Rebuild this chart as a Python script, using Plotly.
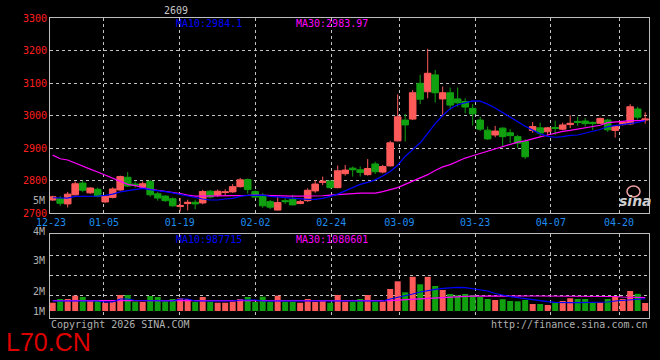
import plotly.graph_objects as go

# ---------------- data ----------------
dates = ["12-23", "12-24", "12-25", "12-26", "12-29", "12-30", "12-31",
         "01-05", "01-06", "01-07", "01-08", "01-09", "01-12", "01-13", "01-14", "01-15", "01-16",
         "01-19", "01-20", "01-21", "01-22", "01-23", "01-26", "01-27", "01-28", "01-29", "01-30",
         "02-02", "02-03", "02-04", "02-05", "02-06", "02-09", "02-10", "02-11", "02-12", "02-13",
         "02-24", "02-25", "02-26", "02-27",
         "03-02", "03-03", "03-04", "03-05", "03-06", "03-09", "03-10", "03-11", "03-12", "03-13",
         "03-16", "03-17", "03-18", "03-19", "03-20", "03-23", "03-24", "03-25", "03-26", "03-27",
         "03-30", "03-31", "04-01", "04-02", "04-03", "04-07", "04-08", "04-09", "04-10",
         "04-13", "04-14", "04-15", "04-16", "04-17", "04-20", "04-21", "04-22", "04-23", "04-24"]

opens = [2740, 2744, 2728, 2756, 2792, 2762, 2773, 2734, 2748, 2771,
         2810, 2789, 2780, 2797, 2759, 2752, 2744, 2720, 2729, 2733,
         2731, 2767, 2755, 2763, 2765, 2781, 2803, 2766, 2755, 2735,
         2709, 2738, 2742, 2729, 2738, 2768, 2794, 2798, 2778, 2821,
         2838, 2833, 2818, 2851, 2826, 2845, 2922, 2986, 2989, 3099,
         3073, 3125, 3051, 3070, 3051, 3043, 3022, 2986, 2955, 2940,
         2961, 2947, 2935, 2920, 2954, 2962, 2950, 2963, 2958, 2972,
         2982, 2983, 2979, 2976, 2986, 2954, 2972, 2974, 3020, 2986]
highs = [2753, 2752, 2765, 2797, 2800, 2779, 2778, 2755, 2779, 2815,
         2826, 2797, 2797, 2802, 2765, 2755, 2748, 2746, 2741, 2741,
         2771, 2771, 2772, 2773, 2789, 2808, 2806, 2770, 2761, 2740,
         2750, 2745, 2756, 2740, 2776, 2801, 2812, 2802, 2846, 2848,
         2843, 2843, 2866, 2858, 2848, 2922, 3065, 3005, 3078, 3125,
         3205, 3140, 3089, 3086, 3086, 3053, 3035, 2996, 2966, 2968,
         2964, 2958, 2940, 2927, 2980, 2978, 2965, 2984, 2978, 3001,
         2996, 2992, 2981, 2993, 2990, 2968, 2981, 3035, 3027, 3010]
lows = [2737, 2722, 2717, 2754, 2764, 2759, 2748, 2731, 2745, 2768,
        2780, 2778, 2775, 2750, 2738, 2734, 2720, 2704, 2708, 2712,
        2727, 2745, 2750, 2754, 2762, 2778, 2760, 2745, 2716, 2712,
        2708, 2728, 2724, 2727, 2734, 2762, 2786, 2775, 2776, 2815,
        2812, 2812, 2815, 2820, 2822, 2843, 2920, 2920, 2986, 3035,
        3053, 3040, 2997, 3017, 3027, 3007, 2969, 2952, 2925, 2933,
        2906, 2915, 2900, 2866, 2947, 2937, 2940, 2940, 2955, 2961,
        2968, 2966, 2955, 2974, 2950, 2932, 2969, 2971, 2988, 2975]
closes = [2750, 2730, 2758, 2790, 2770, 2777, 2751, 2752, 2774, 2812,
          2783, 2786, 2790, 2756, 2746, 2738, 2722, 2723, 2733, 2728,
          2766, 2749, 2767, 2765, 2781, 2802, 2772, 2749, 2722, 2718,
          2732, 2735, 2725, 2735, 2770, 2789, 2798, 2778, 2830, 2832,
          2833, 2825, 2837, 2827, 2843, 2916, 2996, 2971, 3070, 3050,
          3130, 3070, 3070, 3032, 3039, 3026, 3005, 2958, 2928, 2952,
          2935, 2938, 2915, 2873, 2966, 2946, 2962, 2960, 2971, 2976,
          2979, 2975, 2975, 2991, 2956, 2966, 2979, 3027, 2995, 2989]

ma10 = [2747, 2746, 2746, 2751, 2751, 2752, 2752, 2754, 2758, 2765,
        2768, 2772, 2776, 2772, 2770, 2766, 2762, 2757, 2752, 2748,
        2743, 2740, 2740, 2743, 2745, 2751, 2754, 2754, 2755, 2751,
        2749, 2746, 2745, 2743, 2742, 2742, 2745, 2751, 2758, 2768,
        2778, 2788, 2794, 2802, 2814, 2828, 2847, 2874, 2895, 2916,
        2945, 2975, 3000, 3021, 3033, 3040, 3045, 3044, 3035, 3023,
        3009, 2995, 2980, 2967, 2955, 2944, 2936, 2933, 2935, 2939,
        2940, 2945, 2951, 2957, 2966, 2969, 2971, 2974, 2979, 2984.1]
ma30 = [2878, 2867, 2863, 2853, 2845, 2835, 2826, 2817, 2807, 2797,
        2788, 2784, 2778, 2773, 2770, 2767, 2764, 2760, 2755, 2752,
        2752, 2752, 2753, 2753, 2754, 2754, 2754, 2755, 2754, 2754,
        2753, 2753, 2752, 2752, 2752, 2752, 2753, 2755, 2757, 2758,
        2760, 2761, 2761, 2761, 2766, 2772, 2778, 2788, 2798, 2808,
        2818, 2831, 2842, 2849, 2860, 2869, 2876, 2883, 2890, 2897,
        2903, 2910, 2918, 2922, 2929, 2934, 2940, 2946, 2951, 2954,
        2958, 2963, 2966, 2970, 2978, 2979, 2982, 2984, 2984, 2983.97]

volumes = [669000, 968000, 968000, 1234000, 1129000, 863000, 863000, 669000, 726000, 1290000,
           1290000, 750000, 726000, 1210000, 1129000, 782000, 968000, 1024000, 968000, 726000,
           1129000, 750000, 669000, 669000, 750000, 968000, 1129000, 726000, 1153000, 750000,
           1234000, 750000, 750000, 669000, 968000, 726000, 887000, 669000, 1290000, 750000,
           750000, 968000, 1290000, 750000, 750000, 1774000, 2395000, 1508000, 2758000, 2153000,
           2758000, 2016000, 1694000, 1371000, 1266000, 1371000, 1290000, 1129000, 968000, 887000,
           952000, 806000, 782000, 887000, 565000, 565000, 484000, 645000, 806000, 1024000,
           968000, 968000, 645000, 669000, 968000, 1153000, 968000, 1613000, 1387000, 645000]
vol_ma10 = [806000, 806000, 806000, 806000, 806000, 806000, 806000, 726000, 726000, 968000,
            968000, 847000, 847000, 806000, 806000, 806000, 806000, 968000, 968000, 806000,
            806000, 806000, 806000, 806000, 806000, 887000, 887000, 887000, 806000, 806000,
            806000, 806000, 806000, 806000, 806000, 806000, 806000, 806000, 806000, 806000,
            806000, 806000, 806000, 806000, 806000, 968000, 1089000, 1234000, 1371000, 1532000,
            1653000, 1750000, 1831000, 1879000, 1911000, 1879000, 1798000, 1734000, 1613000, 1411000,
            1266000, 1153000, 1073000, 992000, 863000, 782000, 750000, 702000, 669000, 669000,
            669000, 669000, 685000, 702000, 726000, 806000, 847000, 887000, 927000, 987715]
vol_ma30 = [830000, 830000, 830000, 830000, 830000, 830000, 830000, 830000, 830000, 830000,
            830000, 820000, 820000, 820000, 820000, 820000, 820000, 820000, 820000, 820000,
            820000, 800000, 800000, 800000, 800000, 800000, 800000, 800000, 800000, 800000,
            800000, 810000, 810000, 810000, 810000, 810000, 810000, 810000, 810000, 810000,
            810000, 810000, 810000, 810000, 810000, 831000, 871000, 911000, 952000, 984000,
            1016000, 1048000, 1073000, 1105000, 1153000, 1185000, 1200000, 1210000, 1210000, 1210000,
            1210000, 1210000, 1210000, 1210000, 1210000, 1210000, 1210000, 1210000, 1210000, 1210000,
            1210000, 1210000, 1210000, 1210000, 1200000, 1169000, 1129000, 1129000, 1105000, 1080601]

tick_dates = ["12-23", "01-05", "01-19", "02-02", "02-24", "03-09", "03-23", "04-07", "04-20"]
price_ticks = [2700, 2800, 2900, 3000, 3100, 3200, 3300]
vol_labels = ["5M", "4M", "3M", "2M", "1M"]
contract = "2609"

# ---------------- styling ----------------
W, H = 660, 360
RED = "#ff5a5a"
GREEN = "#10a010"
GRID = "#c4c4c4"
BORDER = "#bdbdbd"
MONO = "DejaVu Sans Mono"
LABEL_RED = "#ff1e1e"
DATE_BLUE = "#1e8cf0"
MA10_C = "#0000ff"
MA30_C = "#ff00ff"
GREY = "#b0b0b0"

def px_x(x):
    return x / W

def px_y(y):
    return 1 - y / H

x = list(range(len(dates)))
x_range = [-0.36, len(dates) - 0.49]
tick_pos = [dates.index(d) * 1.0099 - 0.23 for d in tick_dates]

fig = go.Figure()
fig.add_trace(go.Candlestick(
    x=x, open=opens, high=highs, low=lows, close=closes,
    increasing=dict(line=dict(color=RED, width=1), fillcolor=RED),
    decreasing=dict(line=dict(color=GREEN, width=1), fillcolor=GREEN),
    whiskerwidth=0, xaxis="x", yaxis="y", showlegend=False))
fig.add_trace(go.Scatter(x=x, y=ma30, mode="lines", line=dict(color=MA30_C, width=1.2),
                         xaxis="x", yaxis="y", showlegend=False))
fig.add_trace(go.Scatter(x=x, y=ma10, mode="lines", line=dict(color=MA10_C, width=1.2),
                         xaxis="x", yaxis="y", showlegend=False))

bar_colors = [RED if c >= o else GREEN for o, c in zip(opens, closes)]
fig.add_trace(go.Bar(x=x, y=volumes, width=0.8, marker=dict(color=bar_colors, line=dict(width=0)),
                     xaxis="x2", yaxis="y2", showlegend=False))
fig.add_trace(go.Scatter(x=x, y=vol_ma30, mode="lines", line=dict(color=MA30_C, width=1.2),
                         xaxis="x2", yaxis="y2", showlegend=False))
fig.add_trace(go.Scatter(x=x, y=vol_ma10, mode="lines", line=dict(color=MA10_C, width=1.2),
                         xaxis="x2", yaxis="y2", showlegend=False))

# volume axis: 12.4 px per million, zero at y=311, panel 234..318
px_per_unit = 12.4 / 1e6
vol_range = [-(318 - 311) / px_per_unit, (311 - 234) / px_per_unit]
vol_grid = [(311 - y) / px_per_unit for y in (255, 275, 295)]

axis_common = dict(showline=True, mirror=True, linecolor=BORDER, linewidth=1,
                   zeroline=False, showgrid=True, griddash="dot", gridcolor=GRID, gridwidth=1,
                   ticks="", automargin=False)

fig.update_layout(
    width=W, height=H, margin=dict(l=0, r=0, t=0, b=0, pad=0), autosize=False,
    paper_bgcolor="black", plot_bgcolor="black", showlegend=False,
    boxgap=0.12, boxgroupgap=0,
    xaxis=dict(domain=[px_x(50), px_x(649)], range=x_range, anchor="y",
               tickvals=tick_pos, ticktext=tick_dates,
               tickfont=dict(color=DATE_BLUE, size=10, family=MONO),
               rangeslider=dict(visible=False), **axis_common),
    yaxis=dict(domain=[px_y(213), px_y(18)], range=[price_ticks[0], price_ticks[-1]], anchor="x",
               tickvals=price_ticks, ticktext=[str(v) for v in price_ticks],
               tickfont=dict(color=LABEL_RED, size=10, family=MONO), **axis_common),
    xaxis2=dict(domain=[px_x(50), px_x(649)], range=x_range, anchor="y2",
                tickvals=tick_pos, showticklabels=False, **axis_common),
    yaxis2=dict(domain=[px_y(318), px_y(234)], range=vol_range, anchor="x2",
                tickvals=vol_grid, showticklabels=False, **axis_common),
    bargap=0.2,
)

def ann(text, x, y, color, size=10, xanchor="left", family=MONO):
    return dict(text=text, x=px_x(x), y=px_y(y), xref="paper", yref="paper",
                xanchor=xanchor, yanchor="middle", showarrow=False,
                font=dict(color=color, size=size, family=family))

annotations = [
    ann(contract, 176, 10, "#c8c8c8", xanchor="center"),
    ann(f"MA10:{ma10[-1]}", 174, 23, MA10_C),
    ann(f"MA30:{ma30[-1]}", 294, 23, MA30_C),
    ann(f"MA10:{vol_ma10[-1]}", 174, 239, MA10_C),
    ann(f"MA30:{vol_ma30[-1]}", 294, 239, MA30_C),
    ann("Copyright 2026 SINA.COM", 49, 324, GREY),
    ann("http://finance.sina.com.cn", 650, 324, GREY, xanchor="right"),
    ann("L70.CN", 4, 342, "#dd0000", size=25, family="Liberation Sans"),
    ann("sina", 635, 201, "#cfcfcf", size=14, xanchor="center", family="DejaVu Sans"),
]
sina_idx = len(annotations) - 1
annotations[sina_idx]["font"]["style"] = "italic"
annotations[sina_idx]["font"]["weight"] = "bold"
for lbl, y in zip(vol_labels, (200, 231, 260, 291, 311)):
    annotations.append(ann(lbl, 47, y, GREY, xanchor="right"))
fig.update_layout(annotations=annotations)

fig.add_shape(type="circle", xref="paper", yref="paper",
              x0=px_x(627), x1=px_x(640), y0=px_y(197), y1=px_y(186),
              line=dict(color="#f0a0a0", width=1.5))

fig.write_html("out.html", config={"displayModeBar": False},
               post_script="document.body.style.margin='0';document.body.style.background='black';")
